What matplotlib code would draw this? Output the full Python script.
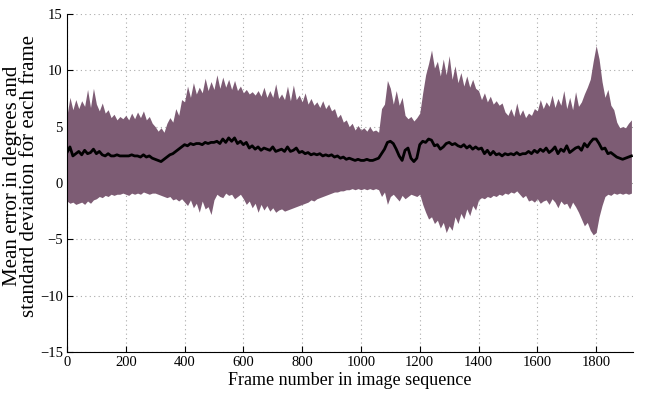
import numpy as np
import matplotlib
matplotlib.use("Agg")
import matplotlib.pyplot as plt

# Frame numbers (sampled every 10 frames)
frames = list(range(0, 1930, 10))

# Upper edge of the standard-deviation band (mean + std)
upper = [
    6.0, 7.6, 6.5, 7.4, 6.6, 7.3, 6.8, 8.3, 6.7, 8.4,
    7.0, 6.4, 7.1, 6.2, 6.5, 5.8, 6.1, 5.6, 5.9, 5.7,
    6.0, 5.6, 6.2, 5.7, 6.3, 5.8, 6.4, 5.6, 5.9, 5.3,
    5.0, 4.6, 4.9, 4.5, 5.3, 5.8, 5.4, 6.6, 6.0, 7.4,
    7.2, 8.6, 7.6, 8.9, 7.9, 8.5, 8.0, 9.3, 8.2, 9.0,
    8.3, 9.6, 8.4, 9.4, 8.5, 9.2, 8.3, 9.1, 8.2, 8.6,
    8.0, 8.3, 7.9, 8.1, 7.8, 8.2, 7.7, 8.5, 7.6, 8.2,
    7.6, 8.8, 7.5, 7.9, 7.4, 8.6, 7.3, 8.7, 7.4, 7.8,
    7.2, 8.0, 7.0, 7.5, 6.9, 7.2, 6.7, 7.3, 6.6, 7.0,
    6.4, 6.6, 5.8, 6.1, 5.4, 5.6, 5.0, 5.3, 4.7, 5.1,
    4.7, 4.9, 4.6, 5.0, 4.6, 4.7, 4.5, 6.6, 7.0, 9.1,
    8.4, 7.0, 8.2, 6.9, 7.6, 6.0, 5.7, 5.9, 5.5, 5.8,
    6.2, 8.0, 9.6, 10.6, 11.8, 10.2, 10.8, 9.5, 11.0, 9.6,
    11.3, 9.2, 10.4, 8.9, 9.8, 8.6, 9.5, 8.5, 9.2, 8.4,
    8.2, 7.4, 8.0, 7.2, 7.7, 7.0, 7.3, 6.9, 7.1, 6.3,
    6.0, 6.6, 5.9, 7.1, 6.0, 6.5, 5.8, 6.2, 6.0, 6.6,
    6.4, 7.4, 6.6, 7.2, 6.8, 7.8, 6.7, 7.5, 6.9, 8.2,
    6.6, 7.6, 6.5, 8.1, 6.8, 7.2, 7.9, 8.5, 9.2, 10.8,
    12.2, 11.0, 9.0, 7.6, 8.3, 6.9, 6.5, 5.4, 4.9, 5.0,
    4.9, 5.3, 5.6,
]

# Lower edge of the standard-deviation band (mean - std)
lower = [
    -1.6, -1.8, -1.7, -1.9, -1.8, -1.7, -1.9, -1.6, -1.8, -1.5,
    -1.4, -1.2, -1.3, -1.1, -1.2, -1.0, -1.1, -1.0, -1.0, -0.9,
    -1.0, -1.1, -0.9, -1.0, -0.9, -1.0, -0.8, -0.9, -1.0, -0.9,
    -0.9, -1.0, -1.1, -1.2, -1.3, -1.2, -1.5, -1.4, -1.6, -1.4,
    -1.7, -2.0, -1.5, -2.2, -1.8, -2.6, -1.6, -2.3, -2.1, -2.8,
    -1.5, -1.0, -1.2, -1.3, -0.9, -1.1, -1.0, -1.4, -1.2, -1.0,
    -1.4, -1.9, -1.6, -2.2, -1.8, -2.6, -1.9, -2.4, -2.0, -2.5,
    -2.2, -2.6, -2.4, -2.3, -2.5, -2.4, -2.3, -2.2, -2.1, -2.0,
    -1.9, -1.8, -1.7, -1.5, -1.6, -1.4, -1.3, -1.2, -1.1, -1.0,
    -0.9, -0.8, -0.8, -0.7, -0.7, -0.6, -0.6, -0.5, -0.6, -0.5,
    -0.6, -0.5, -0.6, -0.5, -0.6, -0.5, -0.6, -1.2, -0.8, -1.9,
    -1.2, -1.0, -1.3, -1.6, -1.1, -1.4, -1.2, -1.0, -1.1, -1.2,
    -1.0, -1.9, -2.6, -3.2, -3.0, -3.6, -3.3, -4.0, -3.5, -4.4,
    -3.8, -4.2, -3.0, -3.6, -2.7, -3.2, -2.3, -2.9, -2.0, -2.4,
    -1.5, -1.3, -1.4, -1.2, -1.3, -1.1, -1.2, -1.0, -1.1, -0.9,
    -1.0, -0.8, -0.9, -0.7, -1.0, -1.3, -1.1, -1.6, -1.5, -1.7,
    -1.4, -1.8, -1.6, -1.5, -1.9, -1.4, -1.7, -2.2, -1.6, -1.9,
    -1.8, -2.3, -1.7, -2.1, -2.6, -3.2, -3.8, -3.5, -4.2, -4.6,
    -4.4, -3.0, -2.0, -1.2, -1.0, -1.1, -0.9, -1.0, -0.9, -1.0,
    -0.9, -1.0, -0.9,
]

# Mean error per frame
mean = [
    2.7, 3.2, 2.4, 2.6, 2.8, 2.5, 2.9, 2.6, 2.7, 3.0,
    2.6, 2.8, 2.5, 2.4, 2.6, 2.4, 2.4, 2.5, 2.4, 2.4,
    2.4, 2.4, 2.5, 2.4, 2.4, 2.3, 2.5, 2.3, 2.4, 2.2,
    2.1, 2.0, 1.9, 2.1, 2.3, 2.5, 2.6, 2.8, 3.0, 3.2,
    3.4, 3.3, 3.5, 3.4, 3.5, 3.5, 3.4, 3.6, 3.5, 3.6,
    3.6, 3.7, 3.5, 3.9, 3.6, 4.0, 3.7, 4.0, 3.5, 3.7,
    3.4, 3.6, 3.1, 3.3, 3.0, 3.2, 2.9, 3.1, 3.0, 2.9,
    3.2, 2.8, 2.9, 3.0, 2.8, 3.2, 2.8, 2.9, 3.1, 2.7,
    2.8, 2.6, 2.7, 2.5, 2.6, 2.5, 2.6, 2.4, 2.5, 2.4,
    2.5, 2.3, 2.4, 2.2, 2.3, 2.1, 2.2, 2.1, 2.0, 2.1,
    2.0, 2.0, 2.1, 2.0, 2.0, 2.1, 2.2, 2.6, 3.0, 3.6,
    3.7, 3.5, 3.0, 2.4, 2.0, 2.9, 3.1, 2.2, 1.9, 2.2,
    3.4, 3.7, 3.6, 3.9, 3.8, 3.3, 3.4, 3.0, 3.2, 3.5,
    3.6, 3.4, 3.5, 3.3, 3.2, 3.4, 3.1, 3.3, 3.0, 3.2,
    3.0, 3.1, 2.6, 2.9, 2.5, 2.8, 2.5, 2.6, 2.4, 2.6,
    2.5, 2.6, 2.5, 2.7, 2.5, 2.6, 2.6, 2.8, 2.6, 2.9,
    2.7, 3.0, 2.8, 3.1, 2.7, 2.9, 3.2, 2.6, 3.0, 2.8,
    3.3, 2.7, 2.9, 3.1, 3.2, 2.9, 3.5, 3.2, 3.6, 3.9,
    3.9, 3.5, 3.0, 3.1, 2.6, 2.7, 2.5, 2.3, 2.2, 2.1,
    2.2, 2.3, 2.4,
]

x_ticks = [0, 200, 400, 600, 800, 1000, 1200, 1400, 1600, 1800]
y_ticks = [-15, -10, -5, 0, 5, 10, 15]

plt.rcParams['font.family'] = ['Liberation Serif', 'DejaVu Serif']
plt.rcParams['axes.unicode_minus'] = True

fig = plt.figure(figsize=(6.46, 3.94), dpi=100)
ax = fig.add_axes([0.1037, 0.1066, 0.876, 0.858])

ax.fill_between(frames, lower, upper, color='#7d5c74', linewidth=0, zorder=2)
ax.plot(frames, mean, color='black', linewidth=2.0, zorder=3)

ax.set_xlim(0, 1925)
ax.set_ylim(-15, 15)
ax.set_xticks(x_ticks)
ax.set_yticks(y_ticks)
ax.tick_params(direction='in', length=4, width=0.8, labelsize=10.5, pad=3)
ax.grid(True, linestyle=(0, (1, 3)), color='#aaaaaa', linewidth=0.8, zorder=1)
ax.set_axisbelow(True)

ax.spines['top'].set_visible(False)
ax.spines['right'].set_visible(False)
ax.spines['left'].set_linewidth(0.8)
ax.spines['bottom'].set_linewidth(0.8)

ax.set_xlabel('Frame number in image sequence', fontsize=13, labelpad=2)
ax.set_ylabel('Mean error in degrees and\nstandard deviation for each frame',
              fontsize=15, linespacing=0.82)
ax.yaxis.set_label_coords(-0.05, 0.52)

fig.savefig('out.png', dpi=100)
